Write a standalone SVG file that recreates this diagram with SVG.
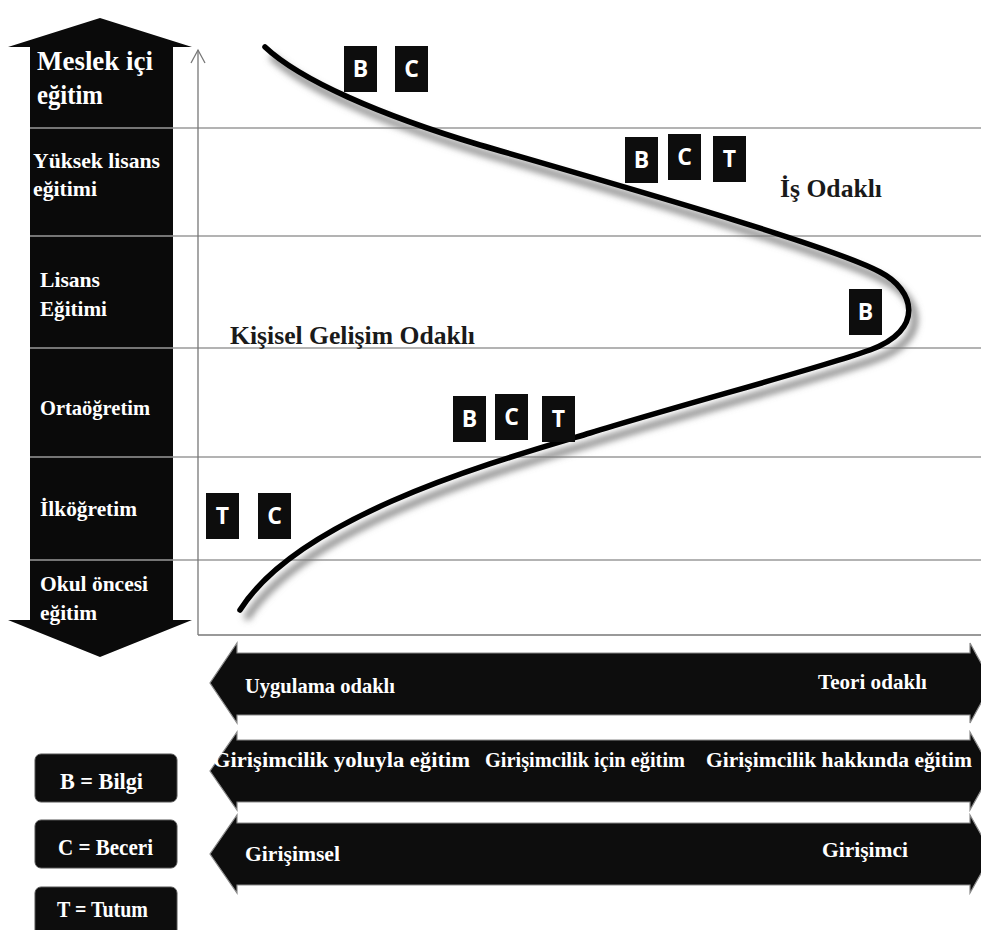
<svg xmlns="http://www.w3.org/2000/svg" width="981" height="930" viewBox="0 0 981 930">
  <defs>
    <style>
      .lvl { font-family: "Liberation Serif", "Times New Roman", serif; font-weight: bold; fill: #ffffff; }
      .band { font-family: "Liberation Serif", "Times New Roman", serif; font-weight: bold; fill: #ffffff; font-size: 21px; }
      .focus { font-family: "Liberation Serif", "Times New Roman", serif; font-weight: bold; fill: #1a1a1a; font-size: 25px; }
      .tag rect { fill: #0d0d0d; }
      .tag text { font-family: "Open Sans", "Liberation Sans", sans-serif; font-weight: bold; font-size: 23px; fill: #ffffff; text-anchor: middle; }
      .grid { stroke: #9a9a9a; stroke-width: 1.5; fill: none; }
      .axis { stroke: #777777; stroke-width: 1.3; fill: none; }
      .bar { fill: #0d0d0d; stroke: #8a8a8a; stroke-width: 1.2; }
      .key rect { fill: #0d0d0d; stroke: #555555; stroke-width: 1; }
      .key text { font-family: "Liberation Serif", "Times New Roman", serif; font-weight: bold; font-size: 24px; fill: #ffffff; }
    </style>
    <filter id="soft" x="-10%" y="-10%" width="120%" height="120%">
      <feGaussianBlur stdDeviation="3.5"/>
    </filter>
  </defs>

  <rect width="981" height="930" fill="#ffffff"/>

  <!-- education levels: double-headed vertical arrow -->
  <g id="levels">
    <polygon fill="#0a0a0a" points="100,18 192,47 173,47 173,620 192,620 100,657 8,620 30,620 30,47 8,47"/>
  </g>

  <!-- horizontal level separators and axes -->
  <g id="grid">
    <line class="grid" x1="30" y1="128" x2="981" y2="128"/>
    <line class="grid" x1="30" y1="236" x2="981" y2="236"/>
    <line class="grid" x1="30" y1="348" x2="981" y2="348"/>
    <line class="grid" x1="30" y1="457" x2="981" y2="457"/>
    <line class="grid" x1="30" y1="560" x2="981" y2="560"/>
    <line class="axis" x1="198" y1="50" x2="198" y2="635"/>
    <polyline class="axis" points="191,63 198,50 205,63"/>
    <line class="axis" x1="198" y1="635" x2="981" y2="635"/>
  </g>

  <g id="level-labels">
    <text class="lvl" x="37" y="70" font-size="27" textLength="116" lengthAdjust="spacingAndGlyphs">Meslek içi</text>
    <text class="lvl" x="37" y="104" font-size="27" textLength="66" lengthAdjust="spacingAndGlyphs">eğitim</text>
    <text class="lvl" x="33" y="168" font-size="22" textLength="127" lengthAdjust="spacingAndGlyphs">Yüksek lisans</text>
    <text class="lvl" x="33" y="196" font-size="22" textLength="64" lengthAdjust="spacingAndGlyphs">eğitimi</text>
    <text class="lvl" x="40" y="287" font-size="22" textLength="60" lengthAdjust="spacingAndGlyphs">Lisans</text>
    <text class="lvl" x="40" y="316" font-size="22" textLength="67" lengthAdjust="spacingAndGlyphs">Eğitimi</text>
    <text class="lvl" x="40" y="415" font-size="22" textLength="110" lengthAdjust="spacingAndGlyphs">Ortaöğretim</text>
    <text class="lvl" x="40" y="516" font-size="22" textLength="97" lengthAdjust="spacingAndGlyphs">İlköğretim</text>
    <text class="lvl" x="40" y="591" font-size="22" textLength="108" lengthAdjust="spacingAndGlyphs">Okul öncesi</text>
    <text class="lvl" x="40" y="620" font-size="22" textLength="57" lengthAdjust="spacingAndGlyphs">eğitim</text>
  </g>

  <!-- focus curve with its soft shadow -->
  <g id="curve">
    <path d="M265,47 C300,80 380,115 480,145 C600,180 830,245 880,272 C915,290 925,330 870,350 C820,368 680,405 590,433 C500,460 300,515 240,610" fill="none" stroke="#7a7a7a" stroke-width="6" transform="translate(6,9)" filter="url(#soft)"/>
    <path d="M265,47 C300,80 380,115 480,145 C600,180 830,245 880,272 C915,290 925,330 870,350 C820,368 680,405 590,433 C500,460 300,515 240,610" fill="none" stroke="#000000" stroke-width="5.5" stroke-linecap="round"/>
  </g>

  <g id="focus-labels">
    <text class="focus" x="780" y="197" textLength="102" lengthAdjust="spacingAndGlyphs">İş Odaklı</text>
    <text class="focus" x="230" y="344" textLength="245" lengthAdjust="spacingAndGlyphs">Kişisel Gelişim Odaklı</text>
  </g>

  <!-- B / C / T markers -->
  <g id="tags-in-service" class="tag">
    <rect x="344" y="46" width="33" height="46"/><text x="360.5" y="77">B</text>
    <rect x="395" y="46" width="33" height="46"/><text x="411.5" y="77">C</text>
  </g>
  <g id="tags-masters" class="tag">
    <rect x="625" y="137" width="33" height="46"/><text x="641.5" y="168">B</text>
    <rect x="668" y="134" width="33" height="46"/><text x="684.5" y="165">C</text>
    <rect x="713" y="136" width="33" height="46"/><text x="729.5" y="167">T</text>
  </g>
  <g id="tags-bachelor" class="tag">
    <rect x="849" y="289" width="33" height="46"/><text x="865.5" y="320">B</text>
  </g>
  <g id="tags-secondary" class="tag">
    <rect x="453" y="396" width="33" height="46"/><text x="469.5" y="427">B</text>
    <rect x="495" y="394" width="33" height="46"/><text x="511.5" y="425">C</text>
    <rect x="542" y="396" width="33" height="46"/><text x="558.5" y="427">T</text>
  </g>
  <g id="tags-primary" class="tag">
    <rect x="206" y="493" width="33" height="46"/><text x="222.5" y="524">T</text>
    <rect x="258" y="493" width="33" height="46"/><text x="274.5" y="524">C</text>
  </g>

  <!-- horizontal double-headed bands -->
  <g id="band-theory">
    <polygon class="bar" points="237,653 237,643 210,683 237,723 237,715 970,715 970,723 992,683 970,643 970,653"/>
    <text class="band" x="245" y="693" font-size="22" textLength="150" lengthAdjust="spacingAndGlyphs">Uygulama odaklı</text>
    <text class="band" x="818" y="689" font-size="22" textLength="109" lengthAdjust="spacingAndGlyphs">Teori odaklı</text>
  </g>
  <g id="band-approach">
    <polygon class="bar" points="237,740 237,732 210,771 237,810 237,802 970,802 970,810 992,771 970,732 970,740"/>
    <text class="band" x="213" y="767" textLength="257" lengthAdjust="spacingAndGlyphs">Girişimcilik yoluyla eğitim</text>
    <text class="band" x="485" y="767" textLength="200" lengthAdjust="spacingAndGlyphs">Girişimcilik için eğitim</text>
    <text class="band" x="706" y="767" textLength="266" lengthAdjust="spacingAndGlyphs">Girişimcilik hakkında eğitim</text>
  </g>
  <g id="band-outcome">
    <polygon class="bar" points="237,823 237,815 210,854 237,893 237,885 970,885 970,893 992,854 970,815 970,823"/>
    <text class="band" x="245" y="861" textLength="95" lengthAdjust="spacingAndGlyphs">Girişimsel</text>
    <text class="band" x="822" y="857" textLength="86" lengthAdjust="spacingAndGlyphs">Girişimci</text>
  </g>

  <!-- legend -->
  <g id="key-bilgi" class="key">
    <rect x="35" y="754" width="142" height="48" rx="6"/>
    <text x="60" y="789" textLength="83" lengthAdjust="spacingAndGlyphs">B = Bilgi</text>
  </g>
  <g id="key-beceri" class="key">
    <rect x="35" y="820" width="142" height="48" rx="6"/>
    <text x="58" y="855" textLength="95" lengthAdjust="spacingAndGlyphs">C = Beceri</text>
  </g>
  <g id="key-tutum" class="key">
    <rect x="35" y="887" width="142" height="50" rx="6"/>
    <text x="57" y="917" textLength="91" lengthAdjust="spacingAndGlyphs">T = Tutum</text>
  </g>
</svg>
